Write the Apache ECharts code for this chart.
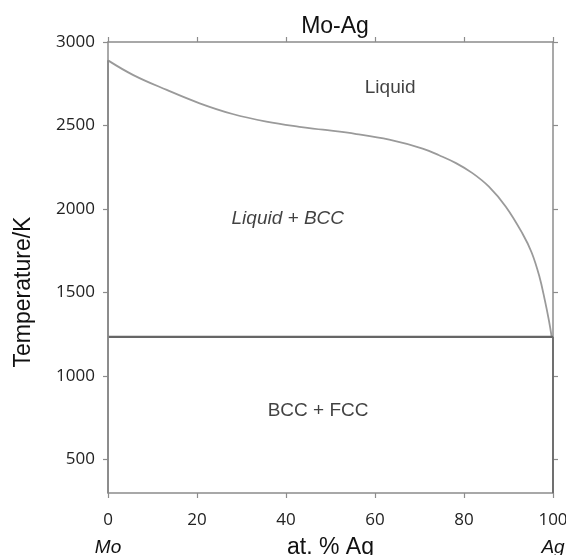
<!DOCTYPE html>
<html>
<head>
<meta charset="utf-8">
<script src="https://cdn.jsdelivr.net/npm/echarts@6/dist/echarts.min.js"></script>
<style>
  html, body { margin: 0; padding: 0; background: #fff; }
  #chart { width: 566px; height: 555px; }
</style>
</head>
<body>
<div id="chart"></div>
<script>
// Mo-Ag phase diagram: liquidus, monotectic/eutectic isotherm and terminal solvus lines
const liquidusX = [0, 5.7, 13.2, 20.6, 28.0, 35.6, 43.0, 48.3, 55.8, 63.2, 70.7, 74.4, 78.2, 81.9, 85.6, 89.4, 93.1, 95.2, 96.9, 98.2, 99.1, 99.7];
const liquidusT = [2890, 2802, 2713, 2633, 2569, 2523, 2492, 2475, 2449, 2415, 2362, 2322, 2275, 2215, 2134, 2014, 1855, 1740, 1600, 1450, 1330, 1235];
const isothermX = [0, 100];
const isothermT = [1235, 1235];
const moSideX = [0, 0];
const moSideT = [2890, 300];
const agSideX = [100, 100];
const agSideT = [1235, 300];
const xTicks = [0, 20, 40, 60, 80, 100];
const yTicks = [500, 1000, 1500, 2000, 2500, 3000];
const regionNames = ['Liquid', 'Liquid + BCC', 'BCC + FCC'];
const regionX = [63.4, 40.4, 47.2];
const regionT = [2725, 1940, 790];

const pairs = (xs, ys) => xs.map((x, i) => [x, ys[i]]);
const axisGray = '#8c8c8c';
const textFont = '"Liberation Sans", Arial, sans-serif';
const tickFont = '"Open Sans", sans-serif';

const chart = echarts.init(document.getElementById('chart'), null, { renderer: 'canvas' });

const baseX = {
  type: 'value', min: 0, max: 100, interval: 20,
  axisLine: { show: true, onZero: false, lineStyle: { color: axisGray, width: 1.5 } },
  axisTick: { show: true, inside: false, length: 5, lineStyle: { color: axisGray, width: 1.2 } },
  splitLine: { show: false }
};
const baseY = {
  type: 'value', min: 300, max: 3000,
  axisLine: { show: true, onZero: false, lineStyle: { color: axisGray, width: 1.5 } },
  axisTick: { show: true, inside: false, length: 5, customValues: yTicks, lineStyle: { color: axisGray, width: 1.2 } },
  splitLine: { show: false }
};

const regionData = regionNames.map((n, i) => {
  const d = { value: [regionX[i], regionT[i]], name: n };
  if (i === 1) d.label = { fontStyle: 'italic' };
  return d;
});

chart.setOption({
  animation: false,
  backgroundColor: '#fff',
  title: {
    text: 'Mo-Ag', left: 330, top: 10, textAlign: 'center',
    textStyle: { fontFamily: textFont, fontSize: 23, fontWeight: 'normal', color: '#111' }
  },
  grid: { left: 108, right: 13, top: 42, bottom: 62, outerBoundsMode: 'none', containLabel: false },
  xAxis: [
    Object.assign({}, baseX, {
      position: 'bottom',
      name: 'at. % Ag', nameLocation: 'middle', nameGap: 43, nameMoveOverlap: false,
      nameTextStyle: { fontFamily: textFont, fontSize: 23, color: '#111' },
      axisLabel: {
        show: true, margin: 19, fontFamily: tickFont, fontSize: 17, color: '#222',
        customValues: xTicks,
        formatter: v => v === 0 ? v + '\n{it|Mo}' : (v === 100 ? v + '\n{it|Ag}' : String(v)),
        rich: { it: { fontFamily: textFont, fontStyle: 'italic', fontSize: 19, color: '#111', padding: [9, 0, 0, 0] } }
      }
    }),
    Object.assign({}, baseX, { position: 'top', axisLabel: { show: false } })
  ],
  yAxis: [
    Object.assign({}, baseY, {
      position: 'left',
      axisLabel: {
        show: true, margin: 13, customValues: yTicks, formatter: v => String(v),
        fontFamily: tickFont, fontSize: 17, color: '#222'
      }
    }),
    Object.assign({}, baseY, { position: 'right', axisLabel: { show: false } })
  ],
  graphic: [{
    type: 'text', x: 24, y: 292, rotation: Math.PI / 2,
    style: {
      text: 'Temperature/K', fontFamily: textFont, fontSize: 23, fill: '#111',
      align: 'center', verticalAlign: 'middle'
    }
  }],
  series: [
    {
      type: 'line', data: pairs(liquidusX, liquidusT), smooth: 0.4,
      showSymbol: false, lineStyle: { color: '#9a9a9a', width: 1.8 }, z: 3
    },
    {
      type: 'line', data: pairs(isothermX, isothermT), showSymbol: false,
      lineStyle: { color: '#666666', width: 2.2 }, z: 3
    },
    {
      type: 'line', data: pairs(moSideX, moSideT), showSymbol: false,
      lineStyle: { color: '#8a8a8a', width: 1.8 }, z: 3
    },
    {
      type: 'line', data: pairs(agSideX, agSideT), showSymbol: false,
      lineStyle: { color: '#6a6a6a', width: 1.8 }, z: 3
    },
    {
      type: 'scatter', symbolSize: 0, silent: true, z: 4,
      data: regionData,
      label: {
        show: true, position: 'inside', formatter: p => p.name,
        fontFamily: textFont, fontSize: 19, color: '#111'
      }
    }
  ]
});
</script>
</body>
</html>
